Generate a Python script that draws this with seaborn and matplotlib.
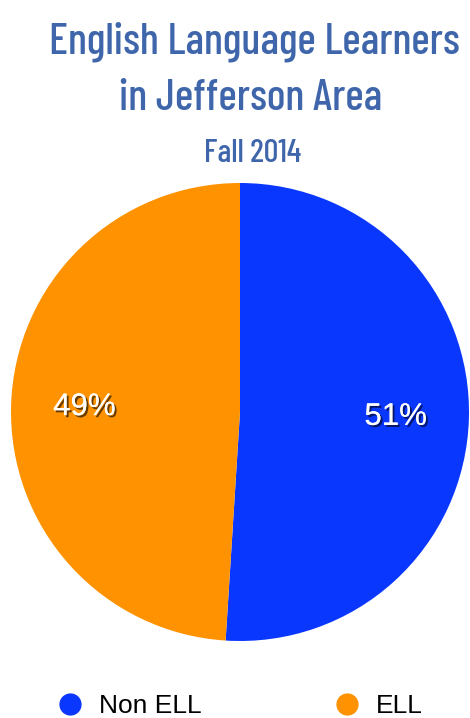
import matplotlib
matplotlib.use("Agg")
import matplotlib.pyplot as plt
import matplotlib.patheffects as pe
from matplotlib.lines import Line2D
import seaborn as sns

# data
groups = ["Non ELL", "ELL"]
shares = [51, 49]
colors = ["#0a37fe", "#fe9200"]

title_color = "#3f66ab"

sns.set_theme(style="white")
plt.rcParams["font.family"] = ["Liberation Sans", "DejaVu Sans"]

fig = plt.figure(figsize=(4.70, 7.18), dpi=100)

# pie area: center (240, 412) px, radius 229 px
W, H = 470, 718
r = 229
ax = fig.add_axes([(240 - r) / W, 1 - (412 + r) / H, 2 * r / W, 2 * r / H])
wedges, texts, autotexts = ax.pie(
    shares,
    colors=colors,
    startangle=90,
    counterclock=False,
    autopct="%d%%",
    pctdistance=0.68,
    textprops=dict(color="white", fontsize=22.5),
    wedgeprops=dict(linewidth=0),
)
for t in autotexts:
    t.set_path_effects([pe.withSimplePatchShadow(offset=(1.5, -1.5), shadow_rgbFace="black", alpha=0.6),
                        pe.Normal()])
ax.set_xlim(-1, 1)
ax.set_ylim(-1, 1)
ax.set_aspect("equal")

# titles
tfont = dict(family=["Barlow Condensed", "DejaVu Sans"], color=title_color,
             ha="center", va="center", weight=500)
fig.text(254 / W, 1 - 42 / H, "English Language Learners", fontsize=31.5, **tfont)
fig.text(251 / W, 1 - 98 / H, "in Jefferson Area", fontsize=31.5, **tfont)
fig.text(253 / W, 1 - 153 / H, "Fall 2014", fontsize=23.5, **tfont)

# legend
handles = [Line2D([], [], marker="o", linestyle="", markersize=15,
                  markerfacecolor=c, markeredgecolor=c) for c in colors]
leg = fig.legend(handles, groups, loc="center", bbox_to_anchor=(240 / W, 1 - 706 / H),
                 ncol=2, frameon=False, fontsize=19, columnspacing=5.0,
                 handletextpad=0.6, handlelength=1.0)
for t in leg.get_texts():
    t.set_color("black")

fig.savefig("out.png", dpi=100)
